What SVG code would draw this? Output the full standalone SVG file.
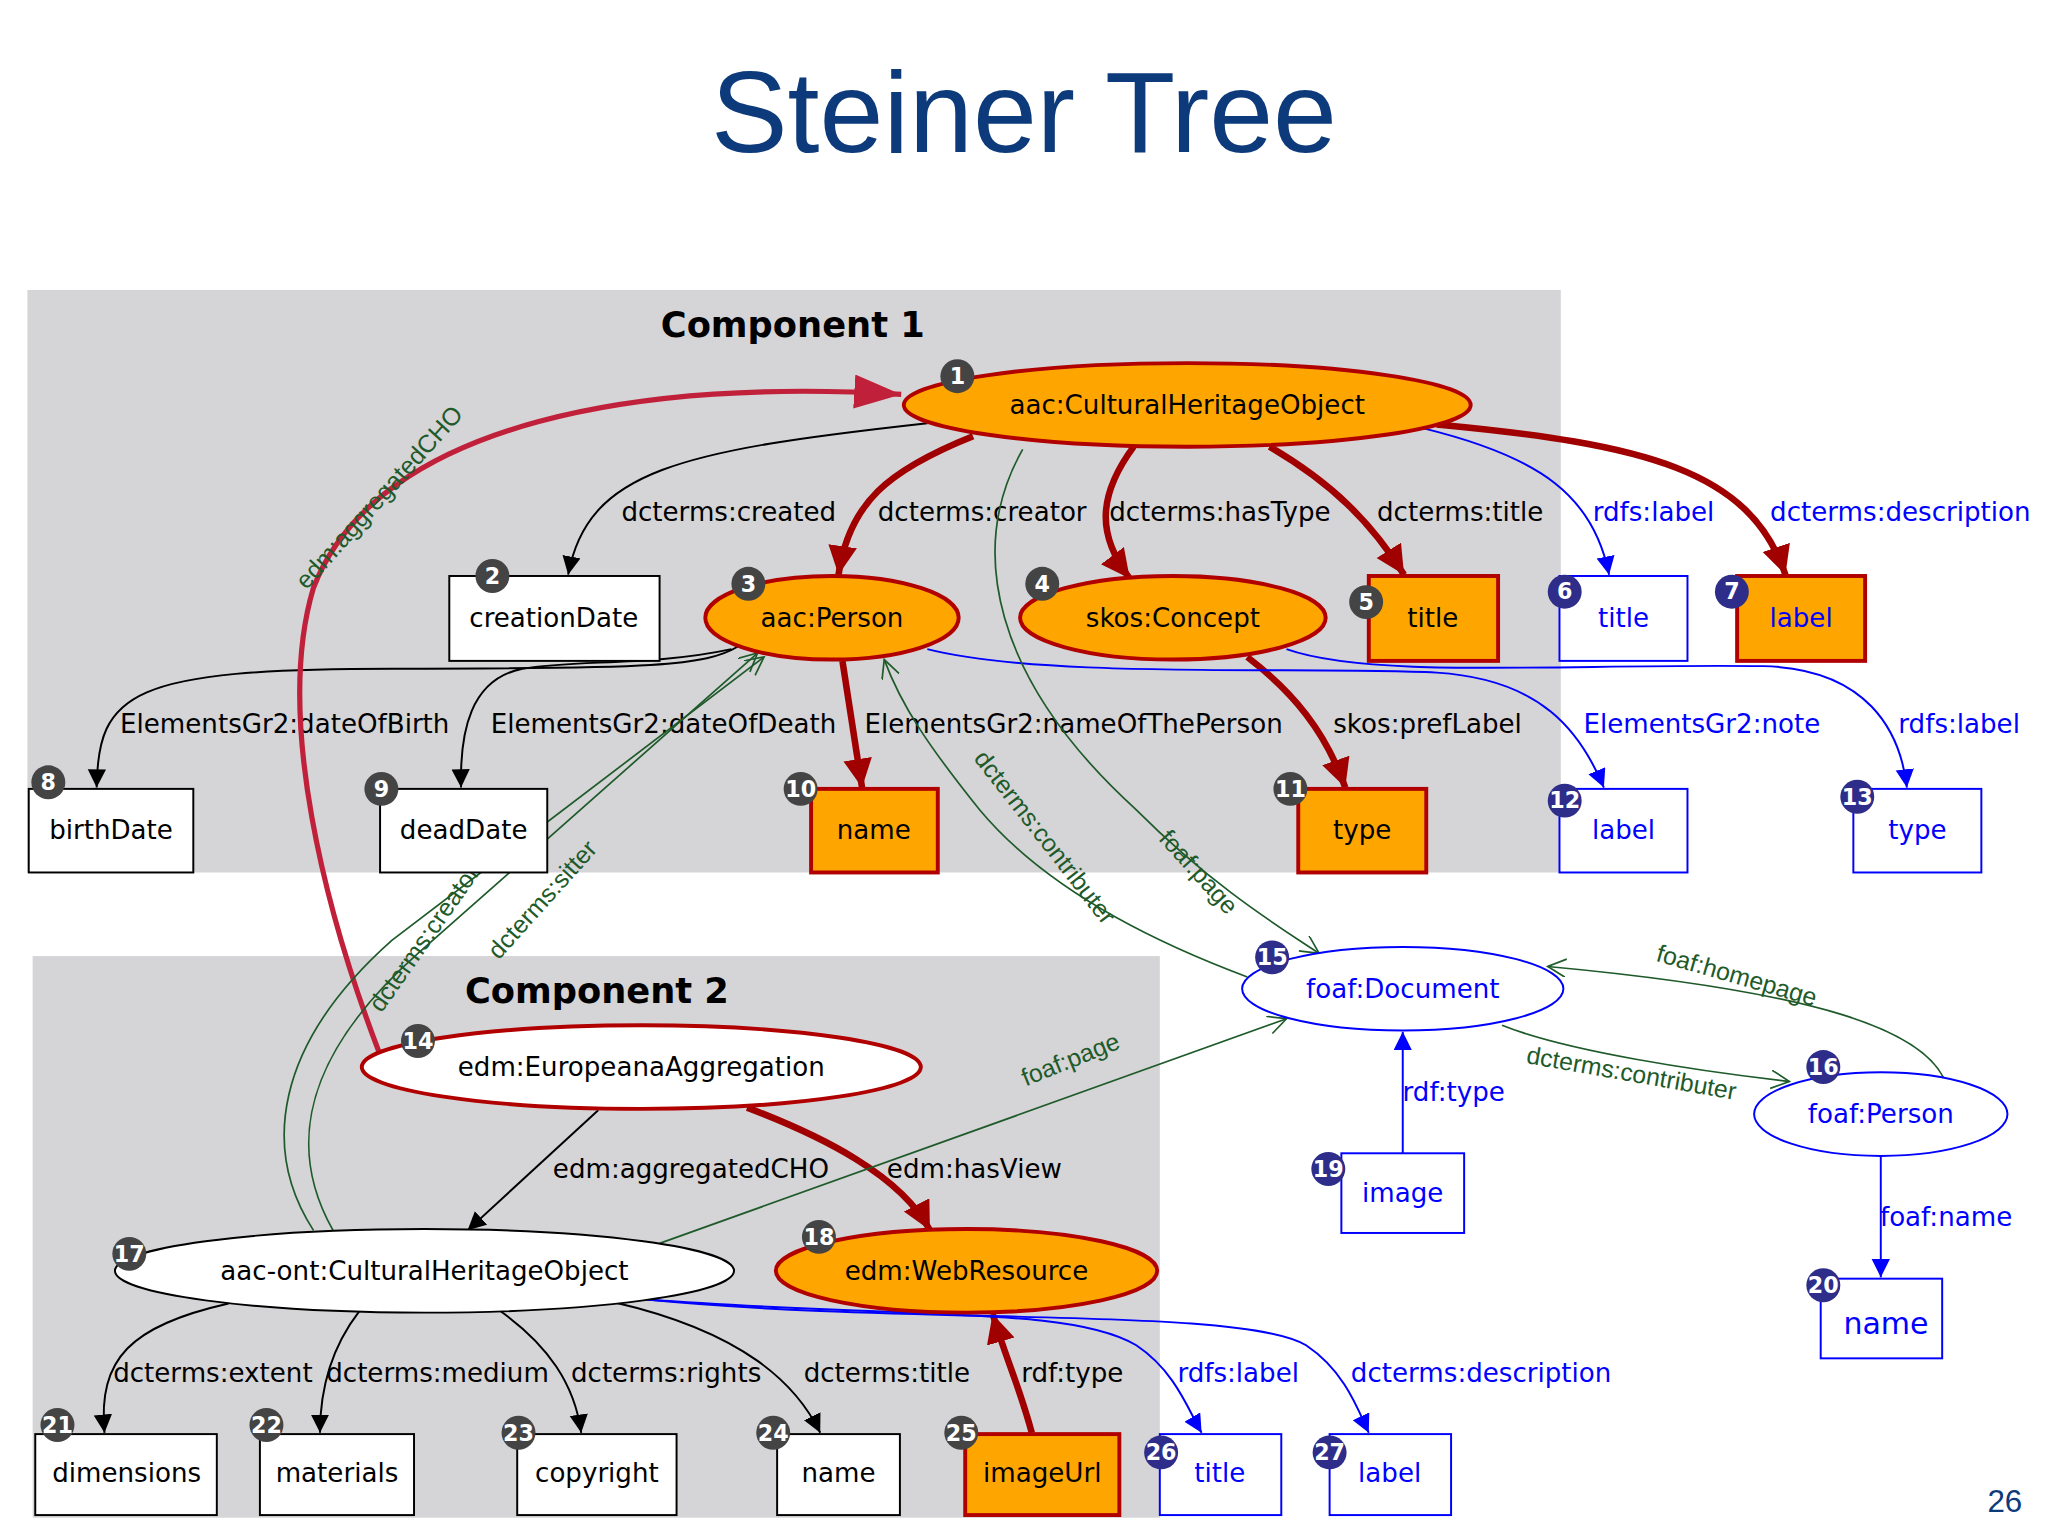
<svg xmlns="http://www.w3.org/2000/svg" width="2048" height="1536" viewBox="0 0 2048 1536">
<defs>
<style>
text{font-family:"DejaVu Sans","Liberation Sans",sans-serif;font-size:20px;fill:#000}
.t{text-anchor:middle}
.b{fill:#00f}
.g{fill:#1e5a2a;font-family:"Liberation Sans",sans-serif;font-size:19px}
.node{stroke:#000;stroke-width:1.5;fill:#fff}
.org{fill:#ffa500;stroke:#b00000;stroke-width:3}
.bl{fill:#fff;stroke:#00f;stroke-width:1.5}
.wr{fill:#fff;stroke:#b00000;stroke-width:3}
.eb{fill:none;stroke:#000;stroke-width:1.5;marker-end:url(#ak)}
.er{fill:none;stroke:#a00000;stroke-width:5;marker-end:url(#ar)}
.eu{fill:none;stroke:#00f;stroke-width:1.5;marker-end:url(#au)}
.eg{fill:none;stroke:#1e5a2a;stroke-width:1.3;marker-end:url(#ag)}
.bd circle{fill:#444}
.bd text{fill:#fff;font-size:17px;font-weight:bold;text-anchor:middle}
.bu circle{fill:#2e2e8a}
</style>
<marker id="ak" markerUnits="userSpaceOnUse" markerWidth="16" markerHeight="16" refX="14" refY="7" orient="auto"><path d="M0,0 L14,7 L0,14 Z" fill="#000"/></marker>
<marker id="ar" markerUnits="userSpaceOnUse" markerWidth="26" markerHeight="26" refX="22" refY="11" orient="auto"><path d="M0,0 L22,11 L0,22 Z" fill="#a00000"/></marker>
<marker id="ac" markerUnits="userSpaceOnUse" markerWidth="40" markerHeight="30" refX="36" refY="13" orient="auto"><path d="M0,0 L36,13 L0,26 Z" fill="#c0203a"/></marker>
<marker id="au" markerUnits="userSpaceOnUse" markerWidth="16" markerHeight="16" refX="14" refY="7" orient="auto"><path d="M0,0 L14,7 L0,14 Z" fill="#00f"/></marker>
<marker id="ag" markerUnits="userSpaceOnUse" markerWidth="16" markerHeight="16" refX="14" refY="7" orient="auto"><path d="M0,0 L14,7 L0,14" fill="none" stroke="#1e5a2a" stroke-width="1.3"/></marker>
</defs>
<rect width="2048" height="1536" fill="#fff"/>
<g transform="scale(1.3061)">
<text x="784" y="116" class="t" style="font-family:'Liberation Sans',sans-serif;font-size:88px;fill:#0d3a7a">Steiner Tree</text>
<g id="component1"><rect x="21" y="222" width="1174" height="446" fill="#d5d4d6"/><text x="607" y="258" class="t" style="font-weight:bold;font-size:27px">Component 1</text></g>
<g id="component2"><rect x="25" y="732" width="863" height="430" fill="#d5d4d6"/><text x="457" y="768" class="t" style="font-weight:bold;font-size:27px">Component 2</text></g>

<g id="connectors">
<path class="eb" d="M710,324 C520,345 450,360 435,440"/><text x="558" y="399" class="t">dcterms:created</text>
<path class="er" d="M745,334 C680,360 650,385 642,440"/><text x="752" y="399" class="t">dcterms:creator</text>
<path class="er" d="M868,342 C840,380 840,410 865,443"/><text x="934" y="399" class="t">dcterms:hasType</text>
<path class="er" d="M972,342 C1020,370 1050,400 1075,440"/><text x="1118" y="399" class="t">dcterms:title</text>
<path class="eu" d="M1090,328 C1180,350 1220,380 1232,440"/><text x="1266" y="399" class="t b">rdfs:label</text>
<path class="er" d="M1100,325 C1260,340 1340,360 1367,440"/><text x="1455" y="399" class="t b">dcterms:description</text>
<path class="eb" d="M565,495 C540,510 500,512 300,512 C100,512 75,530 74,603"/><text x="218" y="561" class="t">ElementsGr2:dateOfBirth</text>
<path class="eb" d="M560,497 C500,510 440,505 400,512 C360,520 352,560 353,603"/><text x="508" y="561" class="t">ElementsGr2:dateOfDeath</text>
<path class="er" d="M645,506 L660,603"/><text x="822" y="561" class="t">ElementsGr2:nameOfThePerson</text>
<path class="er" d="M955,503 C990,530 1015,560 1030,603"/><text x="1093" y="561" class="t">skos:prefLabel</text>
<path class="eu" d="M710,497 C800,520 1000,510 1100,515 C1180,520 1210,560 1228,603"/><text x="1303" y="561" class="t b">ElementsGr2:note</text>
<path class="eu" d="M985,497 C1050,520 1200,508 1350,510 C1430,512 1455,560 1460,603"/><text x="1500" y="561" class="t b">rdfs:label</text>
<path fill="none" stroke="#c0203a" stroke-width="4" marker-end="url(#ac)" d="M290,805 C250,700 210,550 240,450 C290,320 500,290 690,302"/>
<text x="295" y="385" class="t g" transform="rotate(-48 295 385)">edm:aggregatedCHO</text>
<path class="eb" d="M458,850 L358,942"/><text x="529" y="902" class="t">edm:aggregatedCHO</text>
<path class="er" d="M572,848 C630,870 690,900 712,942"/><text x="746" y="902" class="t">edm:hasView</text>
<path class="eg" d="M240,942 C200,880 210,800 300,720 L585,503"/>
<path class="eg" d="M255,942 C220,880 230,810 320,730 L580,500"/>
<text x="330" y="722" class="t g" transform="rotate(-55 330 722)">dcterms:creator</text>
<text x="420" y="693" class="t g" transform="rotate(-48 420 693)">dcterms:sitter</text>
<path class="eg" d="M505,952 L985,780"/><text x="822" y="817" class="t g" transform="rotate(-22 822 817)">foaf:page</text>
<path class="eg" d="M783,344 C740,420 760,520 870,620 C930,680 980,710 1010,730"/><text x="913" y="672" class="t g" transform="rotate(48 913 672)">foaf:page</text>
<path class="eg" d="M955,748 C880,720 800,680 750,620 C710,570 690,540 677,505"/><text x="795" y="645" class="t g" transform="rotate(52 795 645)">dcterms:contributer</text>
<path class="eg" d="M1150,785 C1200,805 1300,820 1370,828"/><text x="1248" y="828" class="t g" transform="rotate(10 1248 828)">dcterms:contributer</text>
<path class="eg" d="M1488,825 C1470,790 1400,760 1185,740"/><text x="1328" y="753" class="t g" transform="rotate(16 1328 753)">foaf:homepage</text>
<path class="eu" d="M1074,883 L1074,790"/><text x="1113" y="843" class="t b">rdf:type</text>
<path class="eu" d="M1440,885 L1440,978"/><text x="1490" y="939" class="t b">foaf:name</text>
<path class="eb" d="M175,998 C100,1015 75,1040 80,1097"/><text x="163" y="1058" class="t">dcterms:extent</text>
<path class="eb" d="M275,1004 C255,1030 245,1060 245,1097"/><text x="335" y="1058" class="t">dcterms:medium</text>
<path class="eb" d="M382,1003 C420,1030 440,1060 445,1097"/><text x="510" y="1058" class="t">dcterms:rights</text>
<path class="eb" d="M470,997 C570,1020 610,1060 628,1097"/><text x="679" y="1058" class="t">dcterms:title</text>
<path class="er" d="M790,1097 C780,1060 770,1040 760,1006"/><text x="821" y="1058" class="t">rdf:type</text>
<path class="eu" d="M495,995 C700,1010 820,1000 870,1030 C900,1050 910,1080 920,1097"/><text x="948" y="1058" class="t b">rdfs:label</text>
<path class="eu" d="M495,995 C700,1015 950,1000 1000,1030 C1030,1050 1040,1080 1048,1097"/><text x="1134" y="1058" class="t b">dcterms:description</text>
</g>

<g id="n1"><ellipse cx="909" cy="310" rx="217" ry="32" class="org"/><text x="909" y="317" class="t">aac:CulturalHeritageObject</text><g class="bd"><circle cx="733" cy="288" r="13"/><text x="733" y="294">1</text></g></g>
<g id="n2"><rect x="344" y="441" width="161" height="65" class="node"/><text x="424" y="480" class="t">creationDate</text><g class="bd"><circle cx="377" cy="441" r="13"/><text x="377" y="447">2</text></g></g>
<g id="n3"><ellipse cx="637" cy="473" rx="97" ry="32" class="org"/><text x="637" y="480" class="t">aac:Person</text><g class="bd"><circle cx="573" cy="447" r="13"/><text x="573" y="453">3</text></g></g>
<g id="n4"><ellipse cx="898" cy="473" rx="117" ry="32" class="org"/><text x="898" y="480" class="t">skos:Concept</text><g class="bd"><circle cx="798" cy="447" r="13"/><text x="798" y="453">4</text></g></g>
<g id="n5"><rect x="1048" y="441" width="99" height="65" class="org"/><text x="1097" y="480" class="t">title</text><g class="bd"><circle cx="1046" cy="461" r="13"/><text x="1046" y="467">5</text></g></g>
<g id="n6"><rect x="1194" y="441" width="98" height="65" class="bl"/><text x="1243" y="480" class="t b">title</text><g class="bd bu"><circle cx="1198" cy="453" r="13"/><text x="1198" y="459">6</text></g></g>
<g id="n7"><rect x="1330" y="441" width="98" height="65" class="org"/><text x="1379" y="480" class="t b">label</text><g class="bd bu"><circle cx="1326" cy="453" r="13"/><text x="1326" y="459">7</text></g></g>
<g id="n8"><rect x="22" y="604" width="126" height="64" class="node"/><text x="85" y="642" class="t">birthDate</text><g class="bd"><circle cx="37" cy="599" r="13"/><text x="37" y="605">8</text></g></g>
<g id="n9"><rect x="291" y="604" width="128" height="64" class="node"/><text x="355" y="642" class="t">deadDate</text><g class="bd"><circle cx="292" cy="604" r="13"/><text x="292" y="610">9</text></g></g>
<g id="n10"><rect x="621" y="604" width="97" height="64" class="org"/><text x="669" y="642" class="t">name</text><g class="bd"><circle cx="613" cy="604" r="13"/><text x="613" y="610">10</text></g></g>
<g id="n11"><rect x="994" y="604" width="98" height="64" class="org"/><text x="1043" y="642" class="t">type</text><g class="bd"><circle cx="988" cy="604" r="13"/><text x="988" y="610">11</text></g></g>
<g id="n12"><rect x="1194" y="604" width="98" height="64" class="bl"/><text x="1243" y="642" class="t b">label</text><g class="bd bu"><circle cx="1198" cy="613" r="13"/><text x="1198" y="619">12</text></g></g>
<g id="n13"><rect x="1419" y="604" width="98" height="64" class="bl"/><text x="1468" y="642" class="t b">type</text><g class="bd bu"><circle cx="1422" cy="610" r="13"/><text x="1422" y="616">13</text></g></g>
<g id="n14"><ellipse cx="491" cy="817" rx="214" ry="32" class="wr"/><text x="491" y="824" class="t">edm:EuropeanaAggregation</text><g class="bd"><circle cx="320" cy="797" r="13"/><text x="320" y="803">14</text></g></g>
<g id="n15"><ellipse cx="1074" cy="757" rx="123" ry="32" class="bl"/><text x="1074" y="764" class="t b">foaf:Document</text><g class="bd bu"><circle cx="974" cy="733" r="13"/><text x="974" y="739">15</text></g></g>
<g id="n16"><ellipse cx="1440" cy="853" rx="97" ry="32" class="bl"/><text x="1440" y="860" class="t b">foaf:Person</text><g class="bd bu"><circle cx="1396" cy="817" r="13"/><text x="1396" y="823">16</text></g></g>
<g id="n17"><ellipse cx="325" cy="973" rx="237" ry="32" class="node"/><text x="325" y="980" class="t">aac-ont:CulturalHeritageObject</text><g class="bd"><circle cx="99" cy="960" r="13"/><text x="99" y="966">17</text></g></g>
<g id="n18"><ellipse cx="740" cy="973" rx="146" ry="32" class="org"/><text x="740" y="980" class="t">edm:WebResource</text><g class="bd"><circle cx="627" cy="947" r="13"/><text x="627" y="953">18</text></g></g>
<g id="n19"><rect x="1027" y="883" width="94" height="61" class="bl"/><text x="1074" y="920" class="t b">image</text><g class="bd bu"><circle cx="1017" cy="895" r="13"/><text x="1017" y="901">19</text></g></g>
<g id="n20"><rect x="1394" y="979" width="93" height="61" class="bl"/><text x="1444" y="1021" class="t b" style="font-size:23px">name</text><g class="bd bu"><circle cx="1396" cy="984" r="13"/><text x="1396" y="990">20</text></g></g>
<g id="n21"><rect x="27" y="1098" width="139" height="62" class="node"/><text x="97" y="1135" class="t">dimensions</text><g class="bd"><circle cx="44" cy="1091" r="13"/><text x="44" y="1097">21</text></g></g>
<g id="n22"><rect x="199" y="1098" width="118" height="62" class="node"/><text x="258" y="1135" class="t">materials</text><g class="bd"><circle cx="204" cy="1091" r="13"/><text x="204" y="1097">22</text></g></g>
<g id="n23"><rect x="396" y="1098" width="122" height="62" class="node"/><text x="457" y="1135" class="t">copyright</text><g class="bd"><circle cx="397" cy="1097" r="13"/><text x="397" y="1103">23</text></g></g>
<g id="n24"><rect x="595" y="1098" width="94" height="62" class="node"/><text x="642" y="1135" class="t">name</text><g class="bd"><circle cx="592" cy="1097" r="13"/><text x="592" y="1103">24</text></g></g>
<g id="n25"><rect x="739" y="1098" width="118" height="62" class="org"/><text x="798" y="1135" class="t">imageUrl</text><g class="bd"><circle cx="736" cy="1097" r="13"/><text x="736" y="1103">25</text></g></g>
<g id="n26"><rect x="888" y="1098" width="93" height="62" class="bl"/><text x="934" y="1135" class="t b">title</text><g class="bd bu"><circle cx="889" cy="1112" r="13"/><text x="889" y="1118">26</text></g></g>
<g id="n27"><rect x="1018" y="1098" width="93" height="62" class="bl"/><text x="1064" y="1135" class="t b">label</text><g class="bd bu"><circle cx="1018" cy="1112" r="13"/><text x="1018" y="1118">27</text></g></g>
<text x="1535" y="1158" class="t" style="font-family:'Liberation Sans',sans-serif;font-size:24px;fill:#0d3a7a">26</text>
</g>
</svg>
